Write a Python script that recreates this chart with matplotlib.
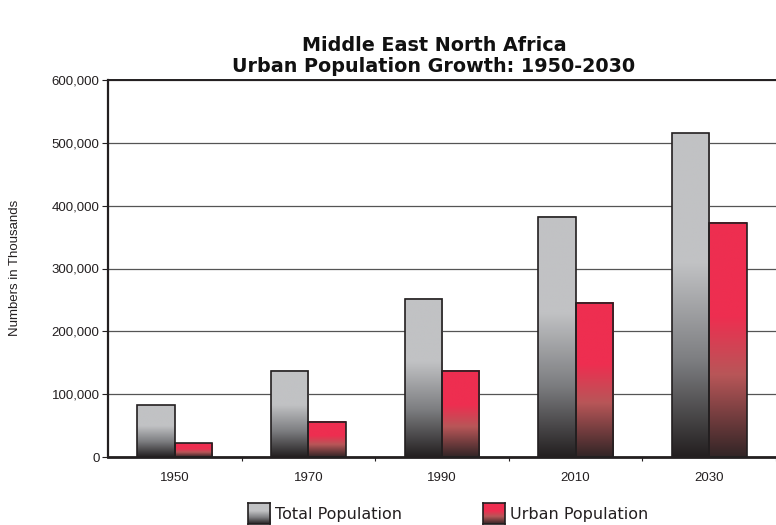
import numpy as np
import matplotlib.pyplot as plt
from matplotlib.colors import LinearSegmentedColormap
from matplotlib.patches import Rectangle

years = ['1950', '1970', '1990', '2010', '2030']
total_pop = [82000, 137500, 252000, 382000, 515000]
urban_pop = [22000, 56000, 137000, 245500, 373000]

W, H = 776, 525
fig = plt.figure(figsize=(W/100, H/100), dpi=100)
ax = fig.add_axes([108/W, (H-457)/H, (W-108)/W, 377/H])

# gradients: top 40% flat colour, lower 60% fading to dark
gray_cm = LinearSegmentedColormap.from_list('g', [(0, '#c1c2c4'), (0.4, '#c1c2c4'),
                                                  (0.7, '#7d7e81'), (1, '#231f20')])
red_cm = LinearSegmentedColormap.from_list('r', [(0, '#ee2e50'), (0.4, '#ee2e50'),
                                                 (0.65, '#b85658'), (1, '#322526')])
grad = np.linspace(0, 1, 256).reshape(-1, 1)

bw = 0.28
x = np.arange(len(years))
for i in x:
    for val, off, cm in [(total_pop[i], -bw, gray_cm), (urban_pop[i], 0, red_cm)]:
        x0 = i + off
        ax.imshow(grad, cmap=cm, aspect='auto', extent=(x0, x0 + bw, 0, val),
                  origin='upper', zorder=2, interpolation='bilinear')
        ax.add_patch(Rectangle((x0, 0), bw, val, fill=False, ec='#231f20', lw=1.2, zorder=3))

tick_font = ['Liberation Sans', 'DejaVu Sans']
ax.set_xlim(-0.5, 4.445)
ax.set_ylim(0, 600000)
ax.set_yticks(np.arange(0, 600001, 100000))
ax.set_yticklabels(['0', '100,000', '200,000', '300,000', '400,000', '500,000', '600,000'],
                   fontsize=9.5, family=tick_font, color='#231f20')
ax.yaxis.grid(True, color='#555555', lw=0.9, zorder=1)
ax.set_axisbelow(True)
ax.set_xticks(x + 0.5)
ax.set_xticklabels([])
ax.set_xticks(x, minor=True)
ax.set_xticklabels(years, minor=True, fontsize=9.5, family=tick_font, color='#231f20')
ax.tick_params(axis='x', which='minor', length=0, pad=11)
ax.tick_params(axis='x', which='major', length=3, width=0.8, color='#231f20')
ax.tick_params(axis='y', length=4, width=0.8, color='#231f20', pad=2)
for s in ['left', 'top', 'bottom']:
    ax.spines[s].set_color('#231f20')
ax.spines['left'].set_linewidth(1.6)
ax.spines['top'].set_linewidth(1.4)
ax.spines['bottom'].set_linewidth(2.0)
ax.spines['right'].set_visible(False)

fig.text(15/W, 1 - 268/H, 'Numbers in Thousands', rotation=90, ha='center', va='center',
         fontsize=9.5, family=tick_font, color='#231f20')
fig.text(434/W, 1 - 56/H, 'Middle East North Africa\nUrban Population Growth: 1950-2030',
         ha='center', va='center', fontsize=13.8, weight='bold', linespacing=1.1,
         family='DejaVu Sans', color='#111111')

# legend with gradient swatches
for (lx, label, cm) in [(248, 'Total Population', gray_cm), (483, 'Urban Population', red_cm)]:
    lax = fig.add_axes([lx/W, 1 - 524/H, 22/W, 21/H])
    lax.imshow(grad, cmap=cm, aspect='auto', extent=(0, 1, 0, 1), origin='upper')
    lax.set_xticks([]); lax.set_yticks([])
    for s in lax.spines.values():
        s.set_color('#231f20'); s.set_linewidth(1.2)
    fig.text((lx + 27)/W, 1 - 515/H, label, ha='left', va='center', fontsize=11.5,
             family='DejaVu Sans', color='#231f20')

fig.savefig('out.png', dpi=100)
